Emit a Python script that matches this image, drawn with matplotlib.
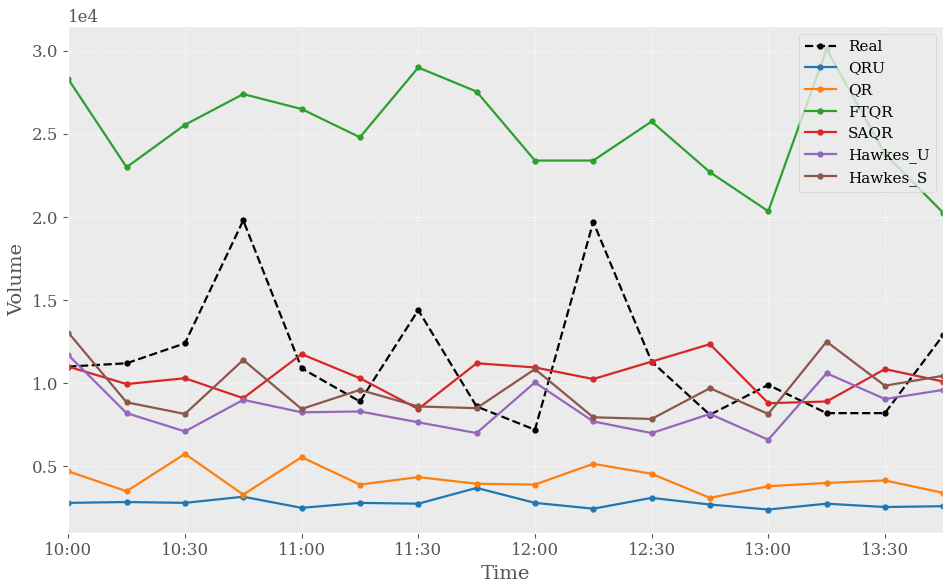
import matplotlib
matplotlib.use("Agg")
import matplotlib.pyplot as plt
import matplotlib.dates as mdates
from datetime import datetime

times = ["10:00", "10:15", "10:30", "10:45", "11:00", "11:15", "11:30", "11:45",
         "12:00", "12:15", "12:30", "12:45", "13:00", "13:15", "13:30", "13:45"]

real      = [11000, 11200, 12400, 19800, 10900, 8900, 14400, 8600,
             7200, 19700, 11300, 8100, 9900, 8200, 8200, 12900]
qru       = [2800, 2850, 2800, 3170, 2500, 2800, 2750, 3700,
             2800, 2450, 3100, 2700, 2400, 2750, 2550, 2600]
qr        = [4700, 3500, 5750, 3300, 5550, 3900, 4350, 3950,
             3900, 5150, 4550, 3100, 3800, 4000, 4150, 3400]
ftqr      = [28300, 23000, 25550, 27400, 26500, 24800, 29000, 27550,
             23400, 23400, 25750, 22700, 20350, 30100, 23800, 20250]
saqr      = [11000, 9950, 10300, 9100, 11750, 10300, 8450, 11200,
             10950, 10250, 11300, 12350, 8800, 8900, 10850, 10100]
hawkes_u  = [11700, 8200, 7100, 9000, 8250, 8300, 7650, 7000,
             10050, 7700, 7000, 8150, 6600, 10600, 9050, 9600]
hawkes_s  = [13050, 8850, 8150, 11400, 8450, 9600, 8600, 8500,
             10850, 7950, 7850, 9700, 8150, 12500, 9850, 10450]

plt.style.use("ggplot")
plt.rcParams["font.family"] = "DejaVu Serif"

x = [datetime.strptime("2020-01-01 " + t, "%Y-%m-%d %H:%M") for t in times]

fig, ax = plt.subplots(figsize=(9.48, 5.82), dpi=100)
ax.set_facecolor("#EBEBEB")

ax.plot(x, real, "k--", marker="o", ms=3.5, lw=1.6, label="Real")
ax.plot(x, qru, color="tab:blue", marker="o", ms=3.5, lw=1.6, label="QRU")
ax.plot(x, qr, color="tab:orange", marker="o", ms=3.5, lw=1.6, label="QR")
ax.plot(x, ftqr, color="tab:green", marker="o", ms=3.5, lw=1.6, label="FTQR")
ax.plot(x, saqr, color="tab:red", marker="o", ms=3.5, lw=1.6, label="SAQR")
ax.plot(x, hawkes_u, color="tab:purple", marker="o", ms=3.5, lw=1.6, label="Hawkes_U")
ax.plot(x, hawkes_s, color="tab:brown", marker="o", ms=3.5, lw=1.6, label="Hawkes_S")

ax.set_xlim(x[0], x[-1])
ax.xaxis.set_major_locator(mdates.MinuteLocator(byminute=[0, 30]))
ax.xaxis.set_major_formatter(mdates.DateFormatter("%H:%M"))
ax.ticklabel_format(axis="y", style="sci", scilimits=(0, 0))
ax.yaxis.get_offset_text().set_fontsize(12)

ax.grid(True, color="white", linestyle=":", linewidth=0.8)
ax.tick_params(labelsize=12, colors="#555555")
ax.set_xlabel("Time", fontsize=14, color="#555555")
ax.set_ylabel("Volume", fontsize=14, color="#555555")

leg = ax.legend(loc="upper right", fontsize=11, framealpha=0.8, facecolor="#EBEBEB")

fig.subplots_adjust(left=0.072, right=0.995, top=0.955, bottom=0.085)
fig.savefig("out.png", dpi=100)
